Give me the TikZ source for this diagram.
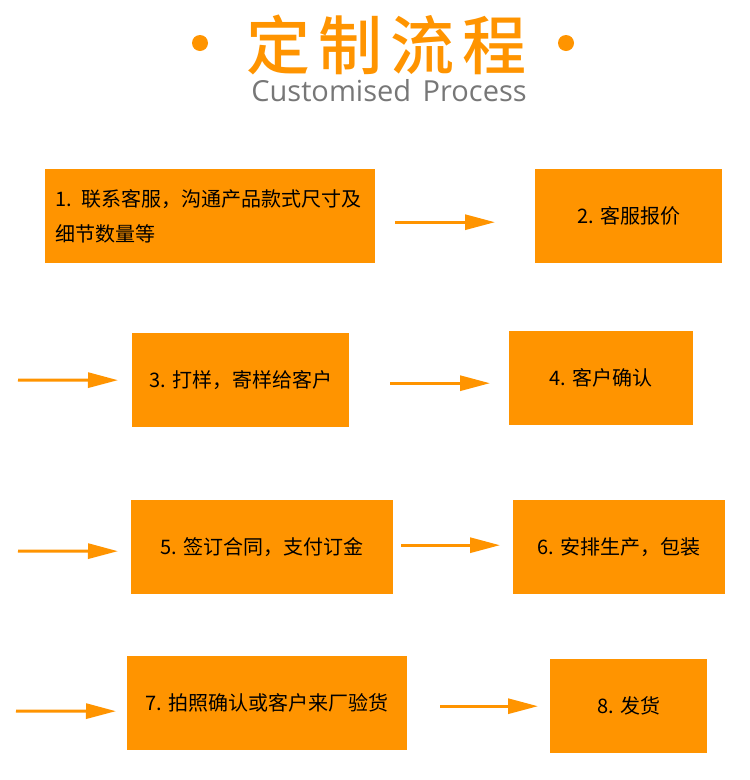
\documentclass[tikz,border=0pt]{standalone}
\usepackage{fontspec}
\setmainfont{Noto Sans CJK SC}
\newfontfamily\biaotifont{Noto Sans CJK SC Medium}
\newfontfamily\yingwenfont{Open Sans}
\usepackage{xcolor}
\usetikzlibrary{arrows.meta,positioning,calc}

\definecolor{jucheng}{HTML}{FF9400}
\definecolor{huise}{HTML}{777777}

\tikzset{
  buzhou/.style={fill=jucheng, anchor=north west, inner sep=0pt, align=center,
    font=\fontsize{20}{35}\selectfont},
  liucheng/.style={draw=jucheng, line width=3pt, -{Triangle[length=30pt,width=15pt]}},
  yuandian/.style={circle, fill=jucheng, inner sep=0pt, minimum size=16pt}
}

\begin{document}
\begin{tikzpicture}[x=1pt,y=-1pt]
			\useasboundingbox (0,0) rectangle (750,780);
			% 标题
			\node[font=\biaotifont\fontsize{64}{64}\selectfont, text=jucheng] (biaoti) at (386,45) {定\hspace{8pt}制\hspace{8pt}流\hspace{8pt}程};
			\node[yuandian] (zuodian) at (200,43) {};
			\node[yuandian] (youdian) at (566,43) {};
			\node[font=\yingwenfont\fontsize{29}{29}\selectfont, text=huise] (fubiaoti) at (389,91) {Customised\hspace{4pt} Process};
			% 步骤
			\node[buzhou, minimum width=330pt, minimum height=94pt, align=left, text width=310pt] (b1) at (45,169) {1. 联系客服，沟通产品款式尺寸及\\细节数量等};
			\node[buzhou, minimum width=187pt, minimum height=94pt] (b2) at (535,169) {2. 客服报价};
			\node[buzhou, minimum width=217pt, minimum height=94pt] (b3) at (132,333) {3. 打样，寄样给客户};
			\node[buzhou, minimum width=184pt, minimum height=94pt] (b4) at (509,331) {4. 客户确认};
			\node[buzhou, minimum width=262pt, minimum height=94pt] (b5) at (131,500) {5. 签订合同，支付订金};
			\node[buzhou, minimum width=212pt, minimum height=94pt] (b6) at (513,500) {6. 安排生产，包装};
			\node[buzhou, minimum width=280pt, minimum height=94pt] (b7) at (127,656) {7. 拍照确认或客户来厂验货};
			\node[buzhou, minimum width=157pt, minimum height=94pt] (b8) at (550,659) {8. 发货};
			% 箭头
			\coordinate (ru2) at (18,380);
			\coordinate (ru3) at (18,551);
			\coordinate (ru4) at (16,711);
			\draw[liucheng, shorten <=20pt, shorten >=40pt] ([yshift=-6pt]b1.east) -- ([yshift=-6pt]b2.west);
			\draw[liucheng, shorten >=14pt] (ru2) -- (b3.west);
			\draw[liucheng, shorten <=41pt, shorten >=19pt] ([yshift=-3pt]b3.east) -- ([yshift=-5pt]b4.west);
			\draw[liucheng, shorten >=13pt] (ru3) -- ([yshift=-4pt]b5.west);
			\draw[liucheng, shorten <=8pt, shorten >=13pt] ([yshift=2pt]b5.east) -- ([yshift=2pt]b6.west);
			\draw[liucheng, shorten >=11pt] (ru4) -- ([yshift=-8pt]b7.west);
			\draw[liucheng, shorten <=33pt, shorten >=12pt] ([yshift=-3pt]b7.east) -- (b8.west);
\end{tikzpicture}
\end{document}
